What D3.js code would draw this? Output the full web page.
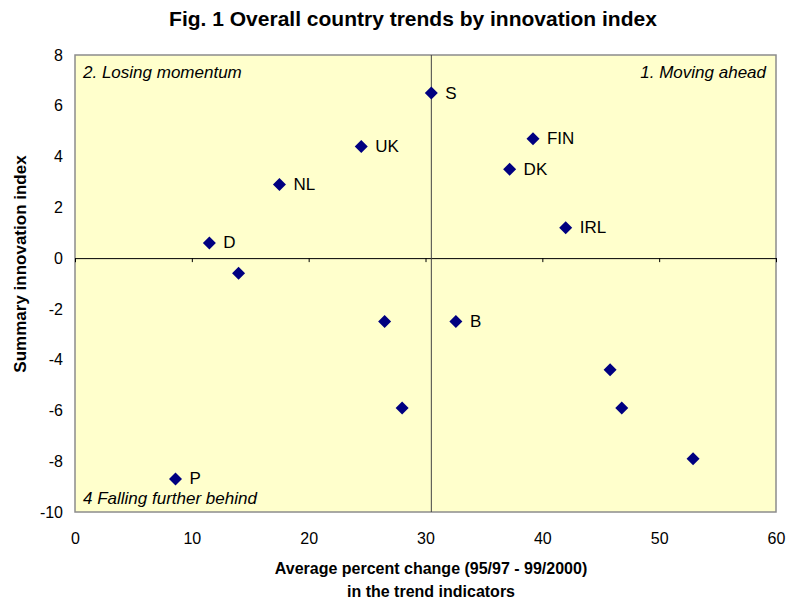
<!DOCTYPE html>
<html>
<head>
<meta charset="utf-8">
<script src="https://cdn.jsdelivr.net/npm/d3@7"></script>
<style>
  body { margin: 0; background: #fff; }
  text { font-family: "Liberation Sans", Arial, sans-serif; }
</style>
</head>
<body>
<div id="chart"></div>
<script>
// chart values
var countries = ["S", "UK", "NL", "D", "", "", "B", "", "FIN", "DK", "IRL", "", "", "", "P"];
var trendChange = [30.5, 24.5, 17.5, 11.5, 14.0, 26.5, 32.6, 28.0, 39.2, 37.2, 42.0, 45.8, 46.8, 52.9, 8.6];
var innovationIndex = [6.5, 4.4, 2.9, 0.6, -0.6, -2.5, -2.5, -5.9, 4.7, 3.5, 1.2, -4.4, -5.9, -7.9, -8.7];
var xTicks = [0, 10, 20, 30, 40, 50, 60];
var yTicks = [-10, -8, -6, -4, -2, 0, 2, 4, 6, 8];
var dividerX = 30.5;

var svgWidth = 788;
var svgHeight = 605;

var margin = { top: 55, right: 12, bottom: 93, left: 75 };
var width = 776 - margin.left;
var height = 512 - margin.top;

var svg = d3.select("#chart")
  .append("svg")
  .attr("width", svgWidth)
  .attr("height", svgHeight);

var chartGroup = svg.append("g")
  .attr("transform", `translate(${margin.left}, ${margin.top})`);

var xScale = d3.scaleLinear().domain([0, 60]).range([0, width]);
var yScale = d3.scaleLinear().domain([-10, 8]).range([height, 0]);

// plot background
chartGroup.append("rect")
  .attr("width", width)
  .attr("height", height)
  .attr("fill", "#ffffcc")
  .attr("stroke", "#8c8c8c")
  .attr("stroke-width", 1.5);

// horizontal axis through zero, ticks only
var zeroAxis = chartGroup.append("g")
  .attr("transform", `translate(0, ${yScale(0)})`)
  .call(d3.axisBottom(xScale).tickValues(xTicks).tickSize(4).tickFormat(""));
zeroAxis.select(".domain").attr("stroke", "#000").attr("stroke-width", 1);
zeroAxis.selectAll(".tick line").attr("stroke", "#000");

// vertical divider line
chartGroup.append("line")
  .attr("x1", xScale(dividerX))
  .attr("x2", xScale(dividerX))
  .attr("y1", 0)
  .attr("y2", height)
  .attr("stroke", "#444")
  .attr("stroke-width", 1);

// x tick labels along the bottom
var xLabels = chartGroup.append("g")
  .attr("transform", `translate(0, ${height})`)
  .call(d3.axisBottom(xScale).tickValues(xTicks).tickSize(0).tickPadding(21));
xLabels.select(".domain").remove();
xLabels.selectAll("text")
  .attr("font-size", "16px")
  .attr("fill", "#000");

// y tick labels down the left, plain hyphen for negatives
var yLabels = chartGroup.append("g")
  .call(d3.axisLeft(yScale).tickValues(yTicks).tickSize(0).tickPadding(12)
    .tickFormat(d => String(d)));
yLabels.select(".domain").remove();
yLabels.selectAll("text")
  .attr("font-size", "16px")
  .attr("fill", "#000");

// quadrant names
var quadrants = chartGroup.append("g")
  .attr("font-size", "17px")
  .attr("font-style", "italic")
  .attr("fill", "#000");
quadrants.append("text").attr("x", 8).attr("y", 23).text("2. Losing momentum");
quadrants.append("text").attr("x", width - 10).attr("y", 23)
  .attr("text-anchor", "end").text("1. Moving ahead");
quadrants.append("text").attr("x", 8).attr("y", height - 8).text("4 Falling further behind");

// markers
var points = trendChange.map(function(d, i) {
  return { x: d, y: innovationIndex[i], name: countries[i] };
});

chartGroup.selectAll("path.marker")
  .data(points)
  .enter()
  .append("path")
  .attr("class", "marker")
  .attr("d", "M0,-6.5L6.5,0L0,6.5L-6.5,0Z")
  .attr("transform", d => `translate(${xScale(d.x)}, ${yScale(d.y)})`)
  .attr("fill", "#000080");

chartGroup.selectAll("text.country")
  .data(points.filter(d => d.name))
  .enter()
  .append("text")
  .attr("class", "country")
  .attr("x", d => xScale(d.x) + 14)
  .attr("y", d => yScale(d.y) + 5.5)
  .attr("font-size", "17px")
  .attr("fill", "#000")
  .text(d => d.name);

// titles
svg.append("text")
  .attr("x", 413)
  .attr("y", 26)
  .attr("text-anchor", "middle")
  .attr("font-size", "21px")
  .attr("font-weight", "bold")
  .text("Fig. 1 Overall country trends by innovation index");

svg.append("text")
  .attr("x", 431)
  .attr("y", 574)
  .attr("text-anchor", "middle")
  .attr("font-size", "16px")
  .attr("font-weight", "bold")
  .text("Average percent change (95/97 - 99/2000)");

svg.append("text")
  .attr("x", 431)
  .attr("y", 597)
  .attr("text-anchor", "middle")
  .attr("font-size", "16px")
  .attr("font-weight", "bold")
  .text("in the trend indicators");

svg.append("text")
  .attr("transform", "translate(26, 264) rotate(-90)")
  .attr("text-anchor", "middle")
  .attr("font-size", "17px")
  .attr("font-weight", "bold")
  .text("Summary innovation index");
</script>
</body>
</html>
